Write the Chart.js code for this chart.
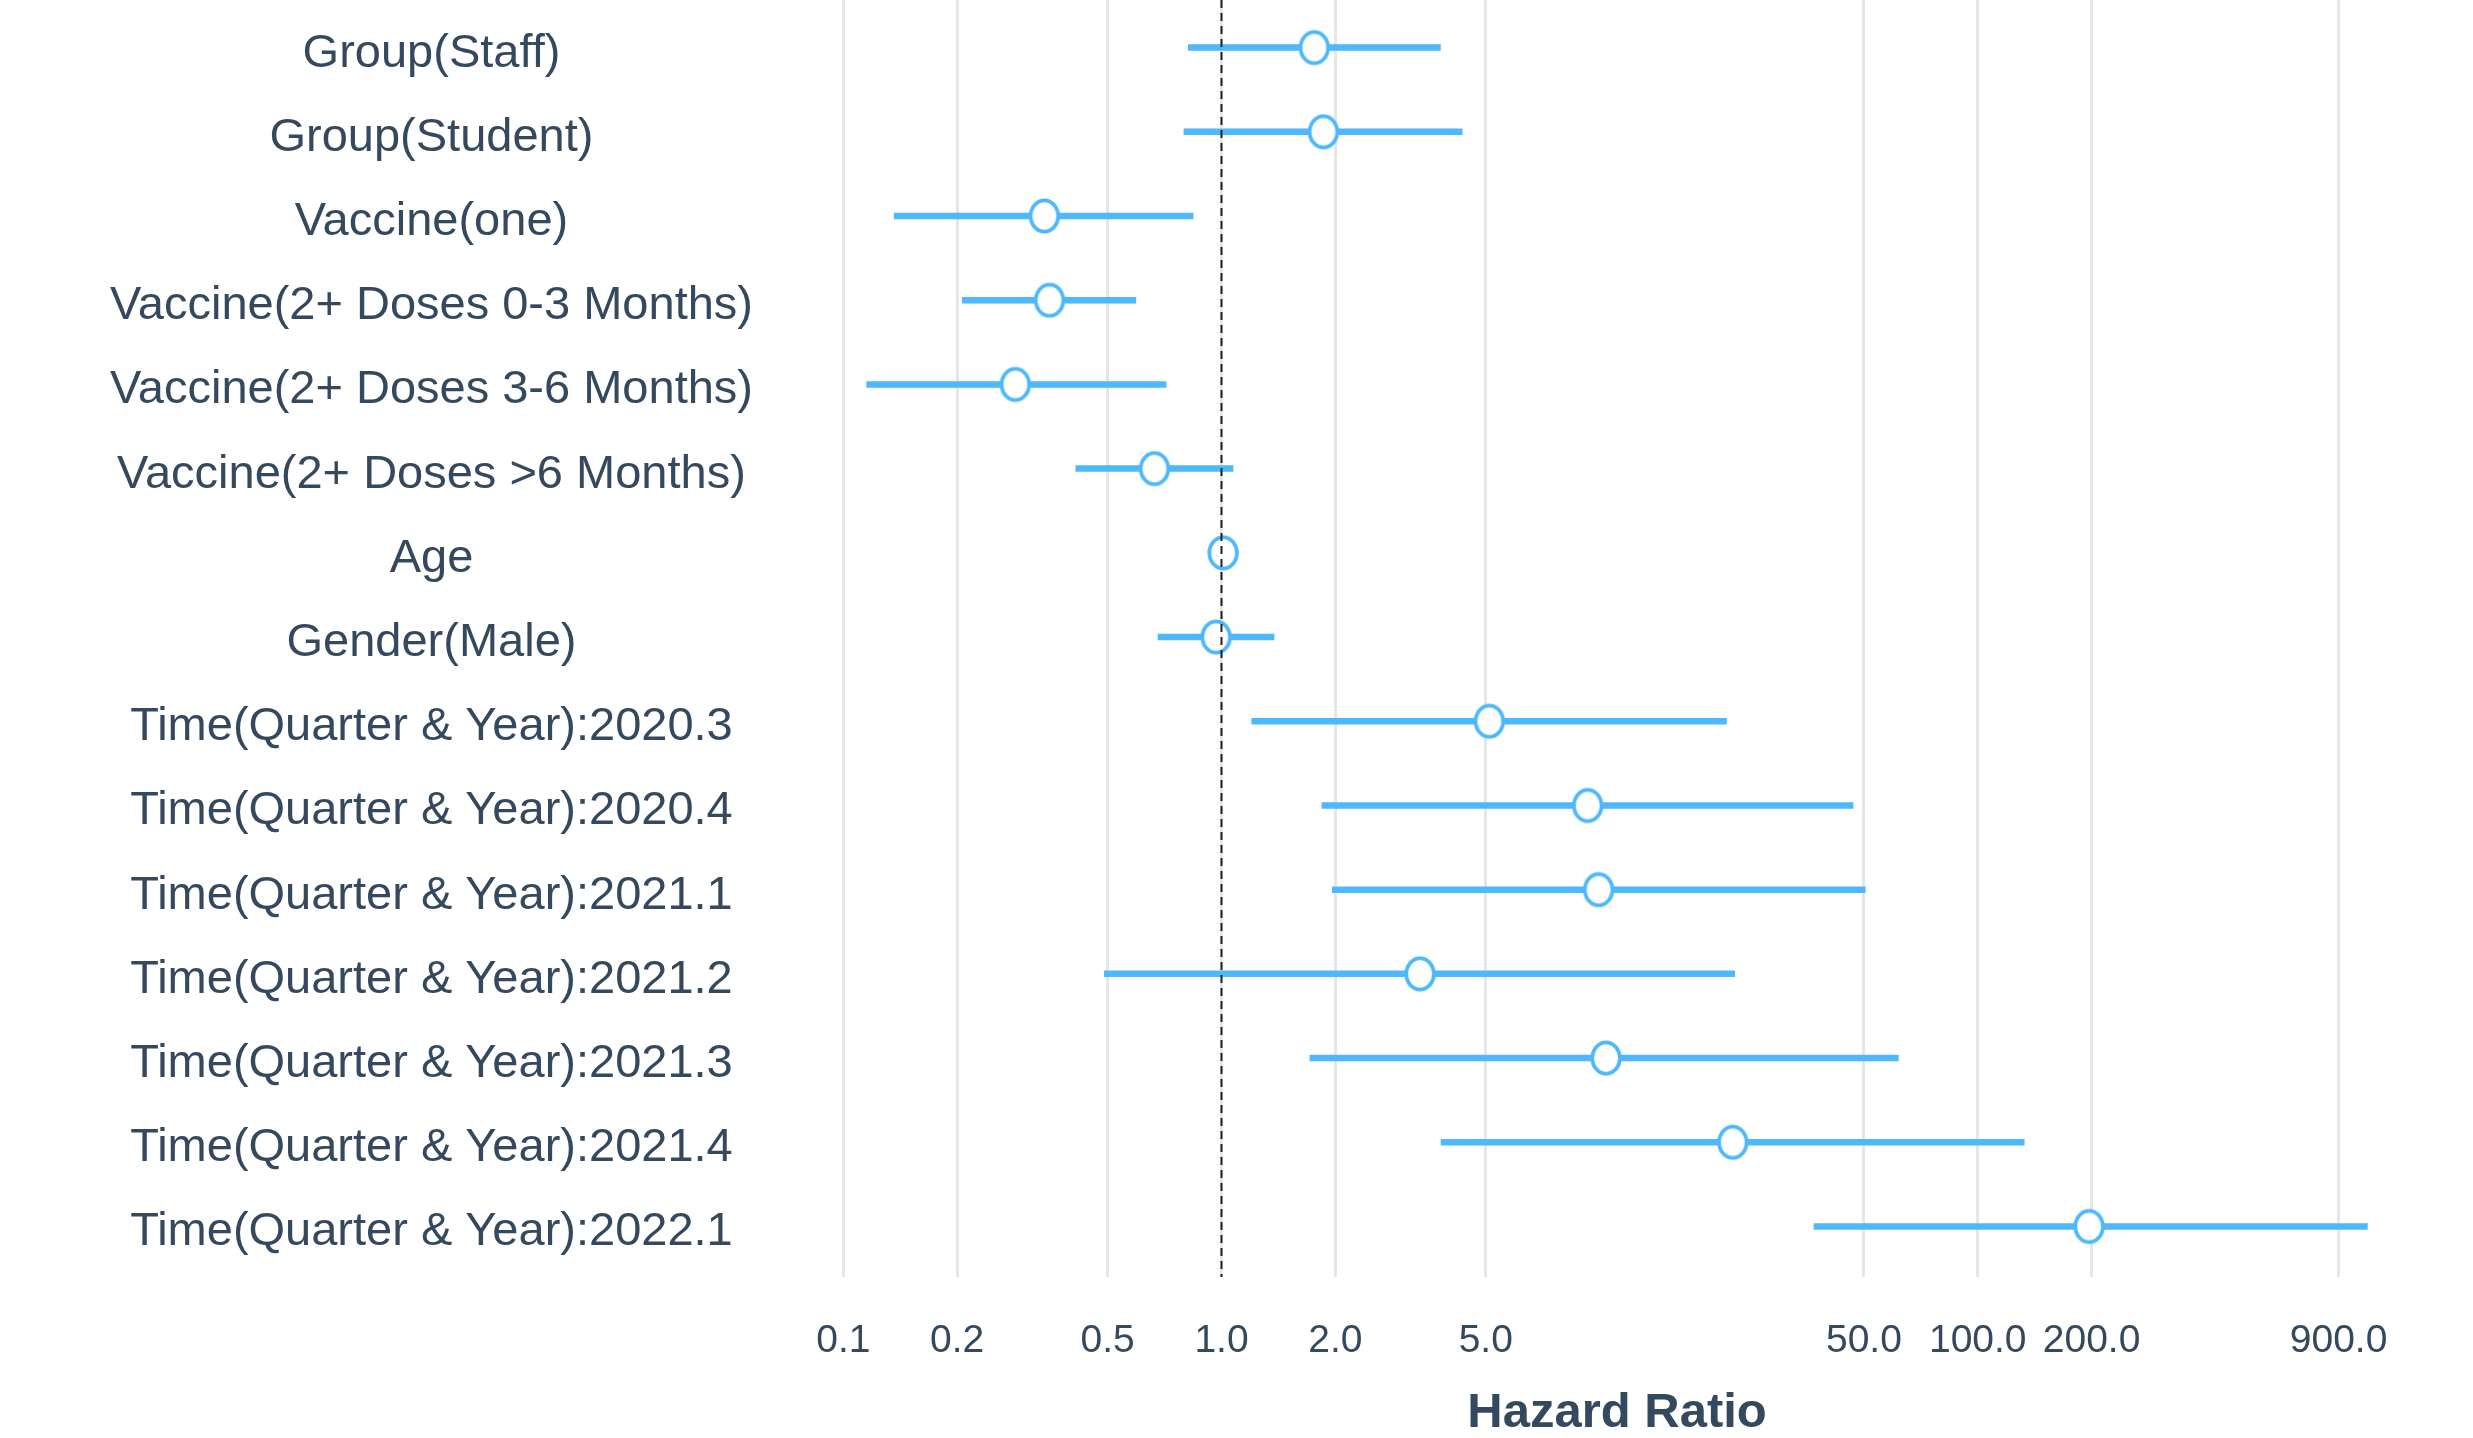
<!DOCTYPE html>
<html>
<head>
<meta charset="utf-8">
<script src="https://cdn.jsdelivr.net/npm/chart.js@4.4.1/dist/chart.umd.min.js"></script>
<style>
  html, body { margin: 0; padding: 0; background: #ffffff; }
  #wrap { width: 2473px; height: 1438px; }
</style>
</head>
<body>
<div id="wrap"><canvas id="forest" width="2473" height="1438"></canvas></div>
<script>
// Hazard ratios with 95% confidence intervals, one row per term
const terms = [
  'Group(Staff)',
  'Group(Student)',
  'Vaccine(one)',
  'Vaccine(2+ Doses 0-3 Months)',
  'Vaccine(2+ Doses 3-6 Months)',
  'Vaccine(2+ Doses >6 Months)',
  'Age',
  'Gender(Male)',
  'Time(Quarter & Year):2020.3',
  'Time(Quarter & Year):2020.4',
  'Time(Quarter & Year):2021.1',
  'Time(Quarter & Year):2021.2',
  'Time(Quarter & Year):2021.3',
  'Time(Quarter & Year):2021.4',
  'Time(Quarter & Year):2022.1'
];
const hazardRatio = [1.76, 1.86, 0.340, 0.351, 0.285, 0.665, 1.01, 0.968, 5.11, 9.30, 9.94, 3.35, 10.4, 22.5, 197];
const ciLower     = [0.815, 0.794, 0.136, 0.206, 0.115, 0.411, 0.99, 0.678, 1.20, 1.84, 1.96, 0.489, 1.71, 3.80, 36.8];
const ciUpper     = [3.80, 4.34, 0.843, 0.595, 0.715, 1.075, 1.03, 1.38, 21.7, 46.9, 50.5, 22.8, 61.8, 133, 1075];

// x axis: log scale, labelled break values
const xTicks = [0.1, 0.2, 0.5, 1, 2, 5, 50, 100, 200, 900];
const xMin = 0.0727;
const xMax = 1700;
const referenceHR = 1;

const BLUE = '#4DB9FC';
const TEXT = '#34495E';
const FONT = "'Liberation Sans', Arial, Helvetica, sans-serif";

// y positions (row index, 0 at top)
const yMin = -0.565;
const yMax = 14.6;

// interval segments, separated by gaps
const segments = [];
terms.forEach((t, i) => {
  segments.push({ x: ciLower[i], y: i });
  segments.push({ x: ciUpper[i], y: i });
  segments.push({ x: null, y: i });
});
const estimates = terms.map((t, i) => ({ x: hazardRatio[i], y: i }));
const refLine = [{ x: referenceHR, y: yMin }, { x: referenceHR, y: yMax }];

// open marker: white ellipse with blue outline
const marker = document.createElement('canvas');
marker.width = 38;
marker.height = 42;
(function () {
  const c = marker.getContext('2d');
  c.beginPath();
  c.ellipse(19, 21, 13.8, 15.6, 0, 0, Math.PI * 2);
  c.fillStyle = '#ffffff';
  c.fill();
  c.lineWidth = 3.8;
  c.strokeStyle = BLUE;
  c.stroke();
})();

new Chart(document.getElementById('forest'), {
  type: 'scatter',
  data: {
    datasets: [
      {
        label: 'CI',
        data: segments,
        showLine: true,
        spanGaps: false,
        borderColor: BLUE,
        borderWidth: 6.5,
        borderCapStyle: 'butt',
        pointRadius: 0,
        order: 3
      },
      {
        label: 'HR',
        data: estimates,
        pointStyle: marker,
        pointRadius: 14,
        order: 2
      },
      {
        label: 'ref',
        data: refLine,
        showLine: true,
        borderColor: '#222222',
        borderWidth: 2,
        borderDash: [8, 5],
        pointRadius: 0,
        order: 1
      }
    ]
  },
  options: {
    responsive: false,
    animation: false,
    events: [],
    layout: { autoPadding: false, padding: { top: 0, right: 30, bottom: 0, left: 0 } },
    plugins: {
      legend: { display: false },
      tooltip: { enabled: false }
    },
    scales: {
      x: {
        type: 'logarithmic',
        position: 'bottom',
        min: xMin,
        max: xMax,
        afterBuildTicks: (axis) => { axis.ticks = xTicks.map(v => ({ value: v })); },
        afterFit: (axis) => {
          axis.height = 161;
          axis.paddingLeft = 0;
          axis.paddingRight = 0;
        },
        ticks: {
          autoSkip: false,
          maxRotation: 0,
          padding: 41,
          color: TEXT,
          font: { family: FONT, size: 39 },
          callback: (v) => Number(v).toFixed(1)
        },
        grid: { color: '#e6e6e6', lineWidth: 3, drawTicks: false },
        border: { display: false },
        title: {
          display: true,
          text: 'Hazard Ratio',
          color: TEXT,
          font: { family: FONT, size: 49, weight: 'bold', lineHeight: 1 },
          padding: { top: 0, bottom: 0 }
        }
      },
      y: {
        type: 'linear',
        position: 'left',
        reverse: true,
        min: yMin,
        max: yMax,
        afterBuildTicks: (axis) => { axis.ticks = terms.map((t, i) => ({ value: i })); },
        afterFit: (axis) => {
          axis.width = 791;
          axis.paddingTop = 0;
          axis.paddingBottom = 0;
        },
        ticks: {
          autoSkip: false,
          crossAlign: 'center',
          padding: 38,
          color: TEXT,
          // a blank leading line with a tight line height nudges each label
          // a few pixels below its row centre
          font: { family: FONT, size: 47, lineHeight: '12px' },
          callback: (v) => ['', terms[v]]
        },
        grid: { display: false, drawTicks: false },
        border: { display: false }
      }
    }
  }
});
</script>
</body>
</html>
